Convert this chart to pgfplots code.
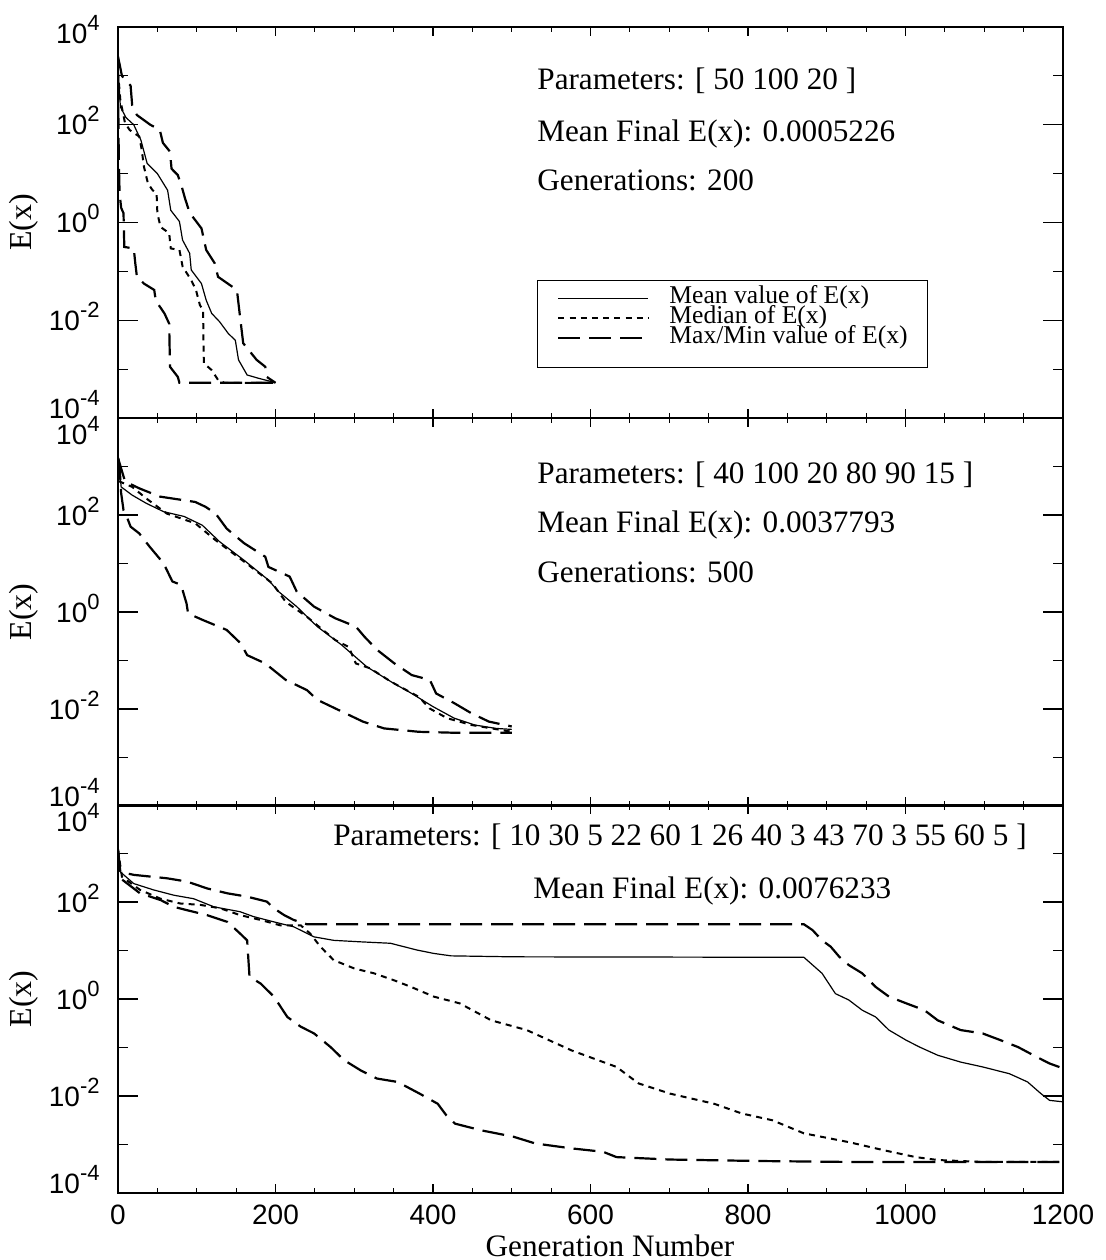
\documentclass[border=0pt]{standalone}
\usepackage{pgfplots}
\pgfplotsset{compat=1.18}
\usepackage{fontspec}
\setmainfont{Liberation Serif}
\newfontfamily\helv{Liberation Sans}
\newcommand{\ytl}[2]{\raisebox{#1}[0pt][0pt]{\fontsize{14}{14}\helv 10\raisebox{6.5pt}{\fontsize{11}{11}\selectfont #2}}}
\newcommand{\annot}{\fontsize{15.6}{15.6}\selectfont}

\tikzset{
  smean/.style={black, line width=0.6pt},
  smed/.style={black, line width=1pt, dash pattern=on 3pt off 2.6pt},
  smm/.style={black, line width=1.1pt, dash pattern=on 11pt off 4.5pt},
}

\begin{document}
\begin{tikzpicture}
\path (0,0) rectangle (552.5pt,-630pt);

% ---------------- Panel 1 ----------------
\begin{axis}[ymode=log, scale only axis, width=472.5pt, height=195.5pt,
    anchor=north west, at={(59pt,-13.5pt)},
    xmin=0, xmax=1200, ymin=1e-4, ymax=1e4,
    xtick={0,200,...,1200}, minor x tick num=3,
    ytick={1e-4,1e-2,1,1e2,1e4}, minor ytick={1e-3,1e-1,10,1000},
    xtick pos=both, ytick pos=both, tick align=inside,
    axis line style={line width=0.75pt},
    xtick style={line width=0.6pt, black, /pgfplots/major tick length=4.5pt, /pgfplots/minor tick length=2.5pt},
    ytick style={line width=0.6pt, black, /pgfplots/major tick length=10pt, /pgfplots/minor tick length=5pt},
    yticklabel style={anchor=east, inner sep=0pt, xshift=-9pt},
  xticklabels={},
  yticklabels={\ytl{0pt}{-4},\ytl{-5pt}{-2},\ytl{-5pt}{0},\ytl{-5pt}{2},\ytl{-8pt}{4}},
  legend style={at={(rel axis cs:0.443,0.353)}, anchor=north west, draw=black, line width=0.6pt, fill=white,
    inner xsep=10pt, inner ysep=6.9pt, row sep=0.25pt,
    font=\fontsize{12.8}{12.8}\selectfont,
    nodes={inner sep=0pt, text height=4.4pt, text depth=5.35pt},
    /tikz/every odd column/.append style={column sep=10pt}},
  legend cell align=left,
  legend image code/.code={\draw[#1] (0pt,3pt) -- (45pt,3pt);},
]
\addplot[smean] coordinates {(0,1500) (3,234) (10,141) (20,100) (29,49) (37,16.2) (50,10) (63,4.57) (67,1.78) (78,1.05) (82,0.437) (91,0.234) (93,0.107) (106,0.0562) (112,0.0257) (119,0.0138) (129,0.00933) (140,0.00537) (149,0.00389) (153,0.00155) (164,0.000759) (179,0.000646) (196,0.00055) (200,0.000525)};
\addlegendentry{Mean value of E(x)}
\addplot[smed] coordinates {(0,1200) (3,316) (9,107) (15,77.6) (27,57.5) (30,31.6) (33,13.8) (38,6.31) (44,4.57) (49,3.98) (50,1.55) (54,0.813) (65,0.603) (67,0.295) (78,0.275) (82,0.126) (93,0.0661) (99,0.0417) (104,0.0204) (108,0.0162) (109,0.00132) (119,0.000955) (127,0.000603) (135,0.000525) (200,0.000525)};
\addlegendentry{Median of E(x)}
\addplot[smm] coordinates {(0,2500) (5,1000) (16,631) (18,251) (24,158) (41,100) (53,79.4) (57,42.7) (66,28.2) (68,12.6) (76,9.33) (81,5.37) (85,3.16) (91,1.58) (106,0.759) (112,0.275) (123,0.145) (127,0.0776) (151,0.0417) (155,0.0117) (159,0.00339) (176,0.00155) (187,0.00112) (189,0.000692) (200,0.000525)};
\addlegendentry{Max/Min value of E(x)}
\addplot[smm, forget plot] coordinates {(0,1000) (1,20) (2,3.98) (4,2.0) (7,1.55) (8,0.316) (20,0.295) (22,0.145) (24,0.0776) (33,0.0562) (46,0.0417) (48,0.0251) (59,0.0138) (65,0.00851) (66,0.00112) (76,0.000692) (78,0.000525) (200,0.000525)};
\end{axis}

% ---------------- Panel 2 ----------------
\begin{axis}[ymode=log, scale only axis, width=472.5pt, height=194pt,
    anchor=north west, at={(59pt,-209pt)},
    xmin=0, xmax=1200, ymin=1e-4, ymax=1e4,
    xtick={0,200,...,1200}, minor x tick num=3,
    ytick={1e-4,1e-2,1,1e2,1e4}, minor ytick={1e-3,1e-1,10,1000},
    xtick pos=both, ytick pos=both, tick align=inside,
    axis line style={line width=0.75pt},
    xtick style={line width=0.6pt, black, /pgfplots/major tick length=4.5pt, /pgfplots/minor tick length=2.5pt},
    ytick style={line width=0.6pt, black, /pgfplots/major tick length=10pt, /pgfplots/minor tick length=5pt},
    yticklabel style={anchor=east, inner sep=0pt, xshift=-9pt},
  xticklabels={},
  yticklabels={\ytl{0pt}{-4},\ytl{-5pt}{-2},\ytl{-5pt}{0},\ytl{-5pt}{2},\ytl{-13pt}{4}},
]
\addplot[smean] coordinates {(0,1500) (1,1349) (4,380) (18,257) (36,174) (58,117) (84,93.3) (107,61.7) (129,28.2) (160,11.7) (191,4.57) (204,2.63) (227,1.29) (253,0.501) (284,0.209) (316,0.0741) (347,0.0363) (373,0.0209) (400,0.0112) (427,0.00646) (453,0.00468) (480,0.00398) (500,0.0038)};
\addplot[smed] coordinates {(0,1500) (2,490) (18,380) (36,219) (62,107) (98,67.6) (124,30.2) (160,11.0) (196,3.89) (213,1.62) (240,0.794) (276,0.263) (293,0.191) (302,0.0871) (320,0.0692) (347,0.0363) (382,0.0178) (396,0.0102) (418,0.00646) (449,0.00468) (500,0.00339)};
\addplot[smm] coordinates {(0,1500) (9,490) (27,355) (53,240) (98,186) (111,148) (124,107) (138,52.5) (160,26.3) (187,13.8) (191,8.51) (218,5.37) (227,2.63) (249,1.29) (276,0.741) (302,0.501) (313,0.309) (329,0.166) (351,0.0871) (373,0.0501) (396,0.0398) (404,0.0209) (427,0.0132) (449,0.00813) (471,0.0055) (500,0.00437)};
\addplot[smm] coordinates {(0,1500) (2,1000) (4,282) (7,126) (11,93.3) (16,57.5) (27,41.7) (40,22.4) (58,10) (69,4.27) (80,3.63) (87,1.51) (89,0.933) (107,0.692) (138,0.427) (156,0.224) (164,0.129) (187,0.0871) (213,0.0398) (240,0.0245) (253,0.0155) (280,0.00955) (311,0.0055) (338,0.00398) (382,0.00339) (427,0.00324) (500,0.00324)};
\end{axis}

% ---------------- Panel 3 ----------------
\begin{axis}[ymode=log, scale only axis, width=472.5pt, height=194pt,
    anchor=north west, at={(59pt,-402.5pt)},
    xmin=0, xmax=1200, ymin=1e-4, ymax=1e4,
    xtick={0,200,...,1200}, minor x tick num=3,
    ytick={1e-4,1e-2,1,1e2,1e4}, minor ytick={1e-3,1e-1,10,1000},
    xtick pos=both, ytick pos=both, tick align=inside,
    axis line style={line width=0.75pt},
    xtick style={line width=0.6pt, black, /pgfplots/major tick length=4.5pt, /pgfplots/minor tick length=2.5pt},
    ytick style={line width=0.6pt, black, /pgfplots/major tick length=10pt, /pgfplots/minor tick length=5pt},
    yticklabel style={anchor=east, inner sep=0pt, xshift=-9pt},
    xticklabel style={anchor=north, inner sep=0pt, yshift=-6pt, font=\fontsize{14}{14}\helv},
    /pgf/number format/assume math mode=true,
    /pgf/number format/1000 sep={},
  yticklabels={\ytl{0pt}{-4},\ytl{-5pt}{-2},\ytl{-5pt}{0},\ytl{-5pt}{2},\ytl{-13pt}{4}},
]
\addplot[smean] coordinates {(0,1200) (3,417) (20,240) (45,178) (71,138) (96,117) (122,79.4) (155,63.1) (172,50.1) (198,38.9) (223,30.9) (249,19.1) (274,16.2) (308,15.1) (346,14.1) (380,10.2) (401,8.71) (423,7.76) (502,7.41) (871,7.24) (894,3.39) (911,1.29) (928,0.955) (945,0.589) (962,0.427) (979,0.229) (1001,0.141) (1018,0.102) (1041,0.0692) (1070,0.0501) (1098,0.0398) (1132,0.0288) (1155,0.0195) (1172,0.0112) (1183,0.00813) (1200,0.00759)};
\addplot[smed] coordinates {(0,1200) (5,331) (28,178) (54,117) (79,93.3) (105,87.1) (130,74.1) (155,53.7) (181,42.7) (206,33.1) (232,33.1) (244,22.4) (257,12.0) (274,6.31) (300,4.27) (325,3.39) (350,2.45) (372,1.78) (401,1.12) (434,0.813) (474,0.363) (519,0.229) (576,0.0871) (633,0.0398) (661,0.0182) (701,0.0112) (757,0.00692) (792,0.00437) (831,0.00316) (871,0.0017) (928,0.00112) (973,0.000759) (1013,0.00055) (1041,0.000479) (1098,0.000437) (1200,0.000437)};
\addplot[smm] coordinates {(0,1200) (3,417) (20,363) (62,309) (88,263) (113,191) (139,151) (164,129) (189,102) (198,74.1) (211,53.7) (223,42.7) (240,34.7) (871,34.7) (882,26.3) (894,16.2) (905,12.0) (916,7.41) (928,5.01) (945,3.39) (962,1.78) (979,1.12) (1001,0.813) (1024,0.589) (1041,0.363) (1070,0.229) (1098,0.195) (1121,0.141) (1143,0.102) (1166,0.0646) (1183,0.0468) (1200,0.0372)};
\addplot[smm] coordinates {(0,1200) (3,309) (28,151) (54,110) (71,79.4) (88,67.6) (113,53.7) (139,38.9) (155,22.4) (164,16.2) (167,2.88) (181,2.09) (198,1.12) (215,0.427) (232,0.269) (249,0.195) (270,0.102) (287,0.055) (308,0.0339) (329,0.0229) (355,0.0195) (383,0.0112) (406,0.00692) (417,0.00398) (428,0.00269) (462,0.00195) (502,0.00145) (530,0.00105) (576,0.000832) (616,0.000708) (633,0.00055) (701,0.00049) (814,0.000457) (928,0.000437) (1200,0.000437)};
\end{axis}

% ---------------- Text ----------------
\node[anchor=base west, inner sep=0pt, font=\annot] at (268.5pt,-44.5pt) {Parameters: [ 50 100 20 ]};
\node[anchor=base west, inner sep=0pt, font=\annot] at (268.5pt,-70.5pt) {Mean Final E(x): 0.0005226};
\node[anchor=base west, inner sep=0pt, font=\annot] at (268.5pt,-95pt) {Generations: 200};

\node[anchor=base west, inner sep=0pt, font=\annot] at (268.5pt,-241.5pt) {Parameters: [ 40 100 20 80 90 15 ]};
\node[anchor=base west, inner sep=0pt, font=\annot] at (268.5pt,-266pt) {Mean Final E(x): 0.0037793};
\node[anchor=base west, inner sep=0pt, font=\annot] at (268.5pt,-291pt) {Generations: 500};

\node[anchor=base west, inner sep=0pt, font=\annot] at (166.5pt,-422.5pt) {Parameters: [ 10 30 5 22 60 1 26 40 3 43 70 3 55 60 5 ]};
\node[anchor=base west, inner sep=0pt, font=\annot] at (266.5pt,-449pt) {Mean Final E(x): 0.0076233};

\node[rotate=90, inner sep=0pt, font=\fontsize{16}{16}\selectfont] at (12pt,-111.25pt) {E(x)};
\node[rotate=90, inner sep=0pt, font=\fontsize{16}{16}\selectfont] at (12pt,-306pt) {E(x)};
\node[rotate=90, inner sep=0pt, font=\fontsize{16}{16}\selectfont] at (12pt,-499.5pt) {E(x)};

\node[anchor=base, inner sep=0pt, font=\annot] at (305pt,-628pt) {Generation Number};
\end{tikzpicture}
\end{document}
